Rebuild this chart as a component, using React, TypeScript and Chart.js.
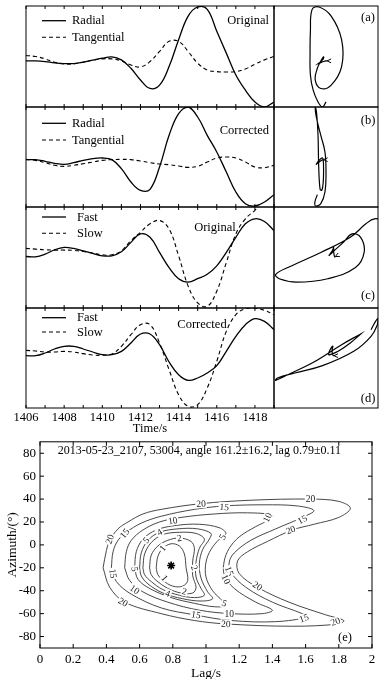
import React, { useEffect, useRef } from 'react';
import { Chart, registerables } from 'chart.js';

Chart.register(...registerables);

const SERIF = '"Liberation Serif", "Times New Roman", "DejaVu Serif", serif';

// ---------- waveform data ----------
const TIME = [1406, 1406.5, 1407, 1407.5, 1408, 1408.5, 1409, 1409.5, 1410, 1410.5, 1411, 1411.5, 1412, 1412.5, 1413, 1413.5, 1414, 1414.5, 1415, 1415.5, 1416, 1416.5, 1417, 1417.5, 1418, 1418.5, 1419];
const TIME_TICKS = [1406, 1407, 1408, 1409, 1410, 1411, 1412, 1413, 1414, 1415, 1416, 1417, 1418, 1419];
const TIME_LABELS = [1406, 1408, 1410, 1412, 1414, 1416, 1418];

const A_RADIAL = [-13, -13, -15, -19, -21, -21, -17, -11, -5, -1, -10, -35, -70, -95, -85, -30, 50, 120, 147, 140, 75, 10, -55, -100, -135, -150, -135];
const A_TANGENTIAL = [3, 0, -7, -17, -22, -22, -17, -11, -7, -7, -13, -25, -31, -15, 15, 45, 45, 15, -20, -40, -45, -46, -45, -37, -23, -10, 0];

const B_RADIAL = [-8, -8, -13, -19, -22, -17, -10, -5, -3, -8, -35, -75, -100, -97, -30, 65, 130, 150, 120, 65, 15, -45, -105, -140, -147, -135, -113];
const B_TANGENTIAL = [-7, -10, -17, -25, -28, -25, -20, -15, -10, -8, -7, -8, -12, -17, -21, -23, -27, -31, -28, -15, -3, 0, -3, -15, -30, -32, -25];

const C_FAST = [3, 2, 10, 23, 30, 27, 20, 12, 5, 5, 17, 45, 70, 60, 15, -30, -63, -73, -63, -50, -25, 15, 60, 100, 115, 107, 80];
const C_SLOW = [27, 25, 23, 22, 22, 21, 18, 13, 8, 8, 20, 50, 75, 100, 110, 85, 5, -85, -135, -145, -100, -15, 70, 115, 140, 170, 200];

const D_FAST = [7, 7, 15, 27, 35, 35, 27, 18, 10, 10, 20, 45, 72, 72, 40, -12, -50, -67, -60, -45, -23, 20, 65, 100, 118, 110, 85];
const D_SLOW = [23, 21, 18, 18, 20, 18, 13, 9, 8, 12, 35, 70, 100, 100, 45, -35, -110, -145, -140, -90, -10, 80, 130, 148, 150, 143, 130];

// ---------- contour (splitting-error surface) data: [lag s, azimuth deg] ----------
const CONTOUR_20 = [[0.38, -20], [0.40, -5], [0.42, 4], [0.47, 14], [0.53, 20], [0.62, 27], [0.73, 31], [0.97, 36], [1.27, 39], [1.63, 40], [1.80, 38], [1.87, 32], [1.80, 24], [1.65, 18], [1.52, 13], [1.37, 3], [1.25, -6], [1.19, -14], [1.20, -25], [1.31, -37], [1.50, -50], [1.72, -61], [1.83, -66], [1.80, -69], [1.52, -71], [1.12, -69], [0.93, -66], [0.73, -60], [0.51, -50], [0.42, -37], [0.38, -20]];
const CONTOUR_15 = [[0.43, -20], [0.44, -6], [0.47, 4], [0.52, 11], [0.61, 19], [0.73, 25], [0.93, 31], [1.11, 34], [1.35, 35], [1.55, 34], [1.65, 30], [1.58, 24], [1.42, 14], [1.27, 4], [1.17, -7], [1.14, -15], [1.15, -24], [1.24, -37], [1.40, -50], [1.58, -60], [1.61, -63], [1.42, -67], [1.15, -66], [0.93, -61], [0.73, -55], [0.55, -43], [0.46, -32], [0.43, -20]];
const CONTOUR_10 = [[0.51, -20], [0.52, -6], [0.55, 4], [0.62, 13], [0.72, 20], [0.85, 24], [1.05, 27], [1.25, 28], [1.40, 26], [1.38, 22], [1.30, 16], [1.20, 7], [1.14, -3], [1.11, -14], [1.11, -26], [1.17, -38], [1.30, -50], [1.40, -57], [1.34, -60], [1.15, -60], [0.96, -57], [0.77, -50], [0.62, -41], [0.54, -31], [0.51, -20]];
const CONTOUR_5 = [[0.57, -20], [0.58, -6], [0.62, 5], [0.70, 13], [0.82, 17], [0.96, 18], [1.08, 15], [1.12, 10], [1.08, 5], [1.03, -4], [1.00, -15], [1.00, -28], [1.04, -40], [1.10, -49], [1.12, -53], [1.05, -54], [0.93, -51], [0.79, -46], [0.66, -38], [0.59, -30], [0.57, -20]];
const CONTOUR_4 = [[0.60, -20], [0.61, -7], [0.65, 4], [0.72, 11], [0.83, 14], [0.95, 14], [1.03, 10], [1.02, 5], [0.98, -4], [0.96, -16], [0.97, -29], [1.01, -41], [1.04, -47], [0.97, -49], [0.86, -47], [0.74, -42], [0.65, -34], [0.61, -27], [0.60, -20]];
const CONTOUR_3 = [[0.62, -20], [0.63, -8], [0.67, 2], [0.74, 9], [0.84, 11], [0.94, 10], [0.99, 5], [0.96, -3], [0.94, -15], [0.94, -28], [0.97, -38], [0.99, -44], [0.93, -46], [0.84, -44], [0.74, -39], [0.67, -32], [0.63, -26], [0.62, -20]];
const CONTOUR_2 = [[0.66, -20], [0.67, -9], [0.71, -1], [0.77, 4], [0.84, 6], [0.91, 3], [0.93, -3], [0.92, -14], [0.92, -27], [0.94, -37], [0.92, -42], [0.85, -42], [0.77, -38], [0.70, -31], [0.67, -26], [0.66, -20]];
const CONTOUR_1 = [[0.70, -20], [0.71, -10], [0.74, -3], [0.79, 1], [0.84, -1], [0.87, -8], [0.88, -20], [0.89, -31], [0.86, -36], [0.80, -36], [0.74, -31], [0.71, -26], [0.70, -20]];

// label text, lag, azimuth, text angle (deg)
const CONTOUR_LABELS: [string, number, number, number][] = [
  ['20', 0.42, 5, -70], ['20', 0.97, 36, -3], ['20', 1.63, 40, 0], ['20', 1.51, 13, -22], ['20', 0.50, -50, 30], ['20', 1.31, -36, 35], ['20', 1.12, -69, 2], ['20', 1.78, -67, -20],
  ['15', 1.11, 33, 5], ['15', 1.58, 22, -28], ['15', 0.51, 10, -50], ['15', 0.44, -25, 80], ['15', 1.14, -23, 70], ['15', 0.94, -61, 10], ['15', 1.59, -64, -20],
  ['10', 0.80, 21, -10], ['10', 1.37, 24, -65], ['10', 1.12, -30, 65], ['10', 0.57, -39, 35], ['10', 1.14, -60, 0],
  ['5', 0.64, 4, -50], ['5', 0.57, -21, 80], ['5', 1.10, 7, -60], ['5', 1.11, -51, 20],
  ['4', 0.72, 11, -30], ['4', 0.77, -42.5, 20],
  ['2', 0.84, 6, -10], ['2', 0.87, -40.6, 15], ['2', 0.93, -20, 70],
  ['1', 0.74, -3, -50], ['1', 0.75, -29, 50],
];

const LAG_TICKS = [0, 0.2, 0.4, 0.6, 0.8, 1, 1.2, 1.4, 1.6, 1.8, 2];
const AZ_TICKS = [-80, -60, -40, -20, 0, 20, 40, 60, 80];
const BEST_LAG = [0.79];
const BEST_AZIMUTH = [-18];
const CONTOUR_TITLE = '2013-05-23_2107, 53004, angle 161.2\u00b116.2, lag 0.79\u00b10.11';

// ---------- plugins ----------
function framePlugin(tickOpts: { timeTicks?: number[]; scaleTicks?: boolean; len: number }) {
  return {
    id: 'frame',
    afterDraw(chart: any) {
      const { ctx, chartArea } = chart;
      const { left, right, top, bottom } = chartArea;
      ctx.save();
      ctx.strokeStyle = '#000';
      ctx.lineWidth = 1;
      ctx.strokeRect(left, top, right - left, bottom - top);
      ctx.beginPath();
      const L = tickOpts.len;
      if (tickOpts.timeTicks) {
        const xs = chart.scales.x;
        tickOpts.timeTicks.forEach((t) => {
          const px = xs.getPixelForValue(t);
          ctx.moveTo(px, bottom); ctx.lineTo(px, bottom - L);
          ctx.moveTo(px, top); ctx.lineTo(px, top + L);
        });
      }
      if (tickOpts.scaleTicks) {
        const xs = chart.scales.x;
        const ys = chart.scales.y;
        xs.ticks.forEach((t: any) => {
          const px = xs.getPixelForValue(t.value);
          ctx.moveTo(px, bottom); ctx.lineTo(px, bottom - L);
          ctx.moveTo(px, top); ctx.lineTo(px, top + L);
        });
        ys.ticks.forEach((t: any) => {
          const py = ys.getPixelForValue(t.value);
          ctx.moveTo(left, py); ctx.lineTo(left + L, py);
          ctx.moveTo(right, py); ctx.lineTo(right - L, py);
        });
      }
      ctx.stroke();
      ctx.restore();
    },
  };
}

function legendPlugin(o: { names: string[]; rows: number[]; textX: number; note: string; noteX: number; noteY: number; noteAlign: CanvasTextAlign }) {
  return {
    id: 'panelLegend',
    afterDraw(chart: any) {
      const { ctx, chartArea } = chart;
      ctx.save();
      ctx.fillStyle = '#000';
      ctx.strokeStyle = '#000';
      ctx.font = `12.5px ${SERIF}`;
      ctx.textBaseline = 'middle';
      o.names.forEach((n, i) => {
        const y = chartArea.top + o.rows[i];
        ctx.beginPath();
        ctx.lineWidth = i === 0 ? 1.3 : 1.1;
        ctx.setLineDash(i === 0 ? [] : [4, 3]);
        ctx.moveTo(42, y);
        ctx.lineTo(66, y);
        ctx.stroke();
        ctx.setLineDash([]);
        ctx.textAlign = 'left';
        ctx.fillText(n, o.textX, y + 0.5);
      });
      ctx.textAlign = o.noteAlign;
      ctx.fillText(o.note, o.noteX, chartArea.top + o.noteY);
      ctx.restore();
    },
  };
}

function tagPlugin(tag: string, dy: number, fromBottom: boolean) {
  return {
    id: 'tag',
    afterDraw(chart: any) {
      const { ctx, chartArea } = chart;
      ctx.save();
      ctx.fillStyle = '#000';
      ctx.font = `12.5px ${SERIF}`;
      ctx.textAlign = 'center';
      ctx.textBaseline = 'middle';
      const y = fromBottom ? chartArea.bottom - dy : chartArea.top + dy;
      ctx.fillText(tag, chartArea.right - 10, y);
      // small arrowhead at the start of the particle motion
      const meta = chart.getDatasetMeta(0);
      const p0 = meta.data[0];
      const p1 = meta.data[1];
      if (p0 && p1) {
        const a = Math.atan2(p1.y - p0.y, p1.x - p0.x);
        const L = 4.5;
        ctx.strokeStyle = '#000';
        ctx.lineWidth = 1;
        ctx.beginPath();
        ctx.moveTo(p0.x + L * Math.cos(a + 2.7), p0.y + L * Math.sin(a + 2.7));
        ctx.lineTo(p0.x, p0.y);
        ctx.lineTo(p0.x + L * Math.cos(a - 2.7), p0.y + L * Math.sin(a - 2.7));
        ctx.stroke();
      }
      ctx.restore();
    },
  };
}

const contourLabelPlugin = {
  id: 'contourLabels',
  afterDatasetsDraw(chart: any) {
    const { ctx, chartArea, scales } = chart;
    ctx.save();
    ctx.font = `9.5px ${SERIF}`;
    ctx.textAlign = 'center';
    ctx.textBaseline = 'middle';
    CONTOUR_LABELS.forEach(([t, lag, az, ang]) => {
      const px = scales.x.getPixelForValue(lag);
      const py = scales.y.getPixelForValue(az);
      ctx.save();
      ctx.translate(px, py);
      ctx.rotate((ang * Math.PI) / 180);
      const w = ctx.measureText(t).width;
      ctx.fillStyle = '#fff';
      ctx.fillRect(-w / 2 - 1, -4.5, w + 2, 9);
      ctx.fillStyle = '#222';
      ctx.fillText(t, 0, 0.5);
      ctx.restore();
    });
    ctx.fillStyle = '#000';
    ctx.font = `12px ${SERIF}`;
    ctx.fillText(CONTOUR_TITLE, chartArea.left + (chartArea.right - chartArea.left) * 0.48, chartArea.top + 9.5);
    ctx.font = `12.5px ${SERIF}`;
    ctx.fillText('(e)', chartArea.right - 27, chartArea.bottom - 10);
    ctx.restore();
  },
};

// ---------- configs ----------
type WavePanel = {
  first: number[]; second: number[]; names: string[]; rows: number[]; textX: number;
  note: string; noteX: number; noteY: number; noteAlign: CanvasTextAlign;
  tag: string; tagDy: number; tagBottom: boolean; top: number; height: number; axis: boolean;
};

const PANELS: WavePanel[] = [
  { first: A_RADIAL, second: A_TANGENTIAL, names: ['Radial', 'Tangential'], rows: [14.7, 31.3], textX: 72, note: 'Original', noteX: 269, noteY: 14.5, noteAlign: 'right', tag: '(a)', tagDy: 11.5, tagBottom: false, top: 6, height: 101, axis: false },
  { first: B_RADIAL, second: B_TANGENTIAL, names: ['Radial', 'Tangential'], rows: [16.3, 33], textX: 72, note: 'Corrected', noteX: 269, noteY: 23.5, noteAlign: 'right', tag: '(b)', tagDy: 13.7, tagBottom: false, top: 107, height: 100, axis: false },
  { first: C_FAST, second: C_SLOW, names: ['Fast', 'Slow'], rows: [10, 26.3], textX: 77, note: 'Original', noteX: 215, noteY: 21, noteAlign: 'center', tag: '(c)', tagDy: 12.3, tagBottom: true, top: 207, height: 101, axis: false },
  { first: D_FAST, second: D_SLOW, names: ['Fast', 'Slow'], rows: [9.7, 24], textX: 77, note: 'Corrected', noteX: 202, noteY: 16.5, noteAlign: 'center', tag: '(d)', tagDy: 9.7, tagBottom: true, top: 308, height: 100, axis: true },
];

const X_AXIS_H = 28;

function waveConfig(p: WavePanel): any {
  return {
    type: 'line',
    data: {
      datasets: [
        { label: p.names[0], data: TIME.map((t, i) => ({ x: t, y: p.first[i] })), borderColor: '#000', borderWidth: 1.3, tension: 0.4, pointRadius: 0 },
        { label: p.names[1], data: TIME.map((t, i) => ({ x: t, y: p.second[i] })), borderColor: '#000', borderWidth: 1.1, borderDash: [4, 3], tension: 0.4, pointRadius: 0 },
      ],
    },
    options: {
      responsive: false,
      animation: false,
      devicePixelRatio: 1,
      layout: { padding: { left: 26, right: 3, top: 1, bottom: p.axis ? 0 : 1 } },
      plugins: { legend: { display: false }, tooltip: { enabled: false } },
      scales: {
        x: {
          type: 'linear', min: 1406, max: 1419, display: p.axis,
          grid: { display: false, drawTicks: false }, border: { display: false },
          ticks: { color: '#000', font: { family: SERIF, size: 12.5 }, padding: 2, maxRotation: 0, autoSkip: false,
            callback: (v: any) => String(v) },
          afterBuildTicks: (s: any) => { s.ticks = TIME_LABELS.map((v) => ({ value: v })); },
          title: { display: true, text: 'Time/s', color: '#000', font: { family: SERIF, size: 12.5 }, padding: { top: 0, bottom: 0 } },
          afterFit: (s: any) => { if (p.axis) s.height = X_AXIS_H; },
        },
        y: { min: -150, max: 150, display: false },
      },
    },
    plugins: [framePlugin({ timeTicks: TIME_TICKS, len: 3 }), legendPlugin(p)],
  };
}

function hodoConfig(p: WavePanel): any {
  return {
    type: 'scatter',
    data: {
      datasets: [
        { label: p.names.join('-'), data: TIME.map((_, i) => ({ x: p.second[i], y: p.first[i] })), showLine: true, borderColor: '#000', borderWidth: 1.2, tension: 0.4, pointRadius: 0 },
      ],
    },
    options: {
      responsive: false,
      animation: false,
      devicePixelRatio: 1,
      layout: { padding: { left: 1, right: 2, top: 1, bottom: 1 } },
      plugins: { legend: { display: false }, tooltip: { enabled: false } },
      scales: {
        x: { type: 'linear', min: -150, max: 150, display: false },
        y: { type: 'linear', min: -150, max: 150, display: false },
      },
    },
    plugins: [framePlugin({ len: 0 }), tagPlugin(p.tag, p.tagDy, p.tagBottom)],
  };
}

const CONTOURS = [CONTOUR_20, CONTOUR_15, CONTOUR_10, CONTOUR_5, CONTOUR_4, CONTOUR_3, CONTOUR_2, CONTOUR_1];
const CONTOUR_NAMES = ['20', '15', '10', '5', '4', '3', '2', '1'];

function contourConfig(): any {
  return {
    type: 'scatter',
    data: {
      datasets: [
        ...CONTOURS.map((c, k) => ({
          label: CONTOUR_NAMES[k],
          data: c.map(([x, y]) => ({ x, y })),
          showLine: true, borderColor: '#333', borderWidth: 0.9, tension: 0.35, pointRadius: 0,
        })),
        {
          label: 'best',
          data: BEST_LAG.map((x, i) => ({ x, y: BEST_AZIMUTH[i] })),
          pointStyle: 'star', pointRadius: 4, borderColor: '#000', borderWidth: 1.6, backgroundColor: '#000',
        },
      ],
    },
    options: {
      responsive: false,
      animation: false,
      devicePixelRatio: 1,
      layout: { padding: { left: 0, right: 12, top: 8, bottom: 0 } },
      plugins: { legend: { display: false }, tooltip: { enabled: false } },
      scales: {
        x: {
          type: 'linear', min: 0, max: 2,
          grid: { display: false, drawTicks: false }, border: { display: false },
          ticks: { color: '#000', font: { family: SERIF, size: 13 }, padding: 4, maxRotation: 0, autoSkip: false,
            callback: (v: any) => String(Math.round(Number(v) * 10) / 10) },
          afterBuildTicks: (s: any) => { s.ticks = LAG_TICKS.map((v) => ({ value: v })); },
          title: { display: true, text: 'Lag/s', color: '#000', font: { family: SERIF, size: 13.5 }, padding: { top: 0, bottom: 0 } },
          afterFit: (s: any) => { s.height = 34; },
        },
        y: {
          type: 'linear', min: -90, max: 90,
          grid: { display: false, drawTicks: false }, border: { display: false },
          ticks: { color: '#000', font: { family: SERIF, size: 13 }, padding: 4, autoSkip: false,
            callback: (v: any) => String(v) },
          afterBuildTicks: (s: any) => { s.ticks = AZ_TICKS.map((v) => ({ value: v })); },
          title: { display: true, text: 'Azimuth/(\u00b0)', color: '#000', font: { family: SERIF, size: 13.5 }, padding: { top: 4, bottom: 0 } },
          afterFit: (s: any) => { s.width = 40; },
        },
      },
    },
    plugins: [framePlugin({ scaleTicks: true, len: 4 }), contourLabelPlugin],
  };
}

function ChartCanvas({ left, top, width, height, make }: { left: number; top: number; width: number; height: number; make: () => any }) {
  const ref = useRef<HTMLCanvasElement>(null);
  useEffect(() => {
    const chart = new Chart(ref.current as HTMLCanvasElement, make());
    return () => chart.destroy();
  }, []);
  return <canvas ref={ref} width={width} height={height} style={{ position: 'absolute', left, top, width, height }} />;
}

export default function App() {
  return (
    <div style={{ position: 'fixed', left: 0, top: 0, width: 384, height: 679, overflow: 'hidden', background: '#fff' }}>
      {PANELS.map((p, i) => (
        <ChartCanvas key={'w' + i} left={0} top={p.top - 1} width={277} height={p.axis ? 1 + p.height + X_AXIS_H : p.height + 2} make={() => waveConfig(p)} />
      ))}
      {PANELS.map((p, i) => (
        <ChartCanvas key={'h' + i} left={273} top={p.top - 1} width={107} height={p.height + 2} make={() => hodoConfig(p)} />
      ))}
      <ChartCanvas left={0} top={430} width={384} height={252} make={contourConfig} />
    </div>
  );
}
